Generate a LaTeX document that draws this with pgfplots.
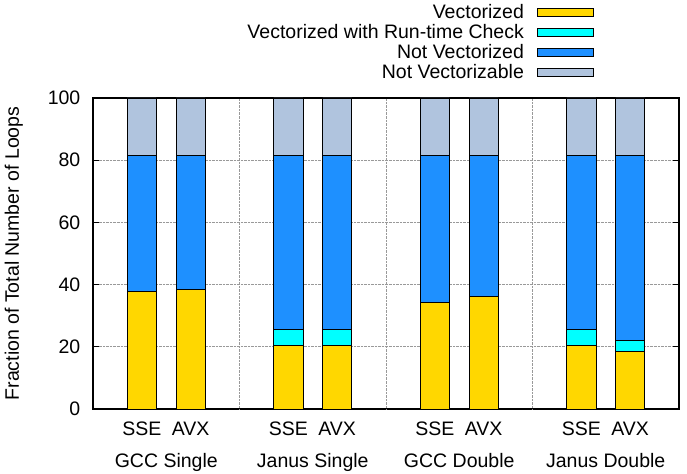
\documentclass[border=0pt]{standalone}
\usepackage{pgfplots}
\pgfplotsset{compat=1.18}
\usepackage{fontspec}
\setmainfont{Liberation Sans}
\definecolor{cvec}{HTML}{FFD700}
\definecolor{crt}{HTML}{00FFFF}
\definecolor{cnot}{HTML}{1E90FF}
\definecolor{cnable}{HTML}{B0C4DE}
\pgfplotsset{mylegend/.style={legend image code/.code={\path (0bp,0bp); \draw[##1] (11bp,-4bp) rectangle (67bp,4bp);}}}
\begin{document}
\fontsize{19.5bp}{22bp}\selectfont
\begin{tikzpicture}
\path[use as bounding box] (-93bp,-65bp) rectangle (594bp,409bp);
\begin{axis}[
  scale only axis, width=586bp, height=311bp,
  at={(0,0)}, anchor=south west,
  clip=false,
  ybar stacked, bar width=0.6,
  xmin=-1, xmax=11, ymin=0, ymax=100,
  xtick={0,1,3,4,6,7,9,10},
  xticklabels={SSE,AVX,SSE,AVX,SSE,AVX,SSE,AVX},
  extra x ticks={2,5,8}, extra x tick labels={},
  extra x tick style={grid=major, major tick length=0pt},
  ytick={0,20,40,60,80,100},
  ymajorgrids, ytick pos=both, tick align=inside,
  major tick length=6bp,
  xtick style={draw=none},
  grid style={densely dotted, gray!80, line width=0.7bp},
  axis line style={line width=1.1bp},
  ytick style={line width=1bp, black},
  /pgf/number format/assume math mode=true,
  ylabel={Fraction of Total Number of Loops},
  every axis y label/.style={at={(axis description cs:-0.135,0.5)}, rotate=90, anchor=center},
  xticklabel style={yshift=-6bp},
  yticklabel style={xshift=-6bp},
  legend cell align=right, legend plot pos=right,
  legend style={draw=none, fill=none, at={(axis description cs:0.8547,1.309)}, anchor=north east, inner sep=0pt, row sep=-1bp, nodes={inner sep=2bp}},
]
\addplot[fill=cvec, draw=black, line width=0.8bp, mylegend]
  coordinates {(0,37.7) (1,38.3) (3,20.4) (4,20.4) (6,34.3) (7,36.3) (9,20.4) (10,18.4)};
\addlegendentry{Vectorized}
\addplot[fill=crt, draw=black, line width=0.8bp, mylegend]
  coordinates {(0,0) (1,0) (3,5.2) (4,5.2) (6,0) (7,0) (9,5.2) (10,3.5)};
\addlegendentry{Vectorized with Run-time Check}
\addplot[fill=cnot, draw=black, line width=0.8bp, mylegend]
  coordinates {(0,43.7) (1,43.1) (3,55.8) (4,55.8) (6,47.1) (7,45.1) (9,55.8) (10,59.5)};
\addlegendentry{Not Vectorized}
\addplot[fill=cnable, draw=black, line width=0.8bp, mylegend]
  coordinates {(0,18.6) (1,18.6) (3,18.6) (4,18.6) (6,18.6) (7,18.6) (9,18.6) (10,18.6)};
\addlegendentry{Not Vectorizable}
\node[anchor=base] at (axis cs:0.5,0) [yshift=-58bp] {GCC Single};
\node[anchor=base] at (axis cs:3.5,0) [yshift=-58bp] {Janus Single};
\node[anchor=base] at (axis cs:6.5,0) [yshift=-58bp] {GCC Double};
\node[anchor=base] at (axis cs:9.5,0) [yshift=-58bp] {Janus Double};
\end{axis}
\end{tikzpicture}
\end{document}
